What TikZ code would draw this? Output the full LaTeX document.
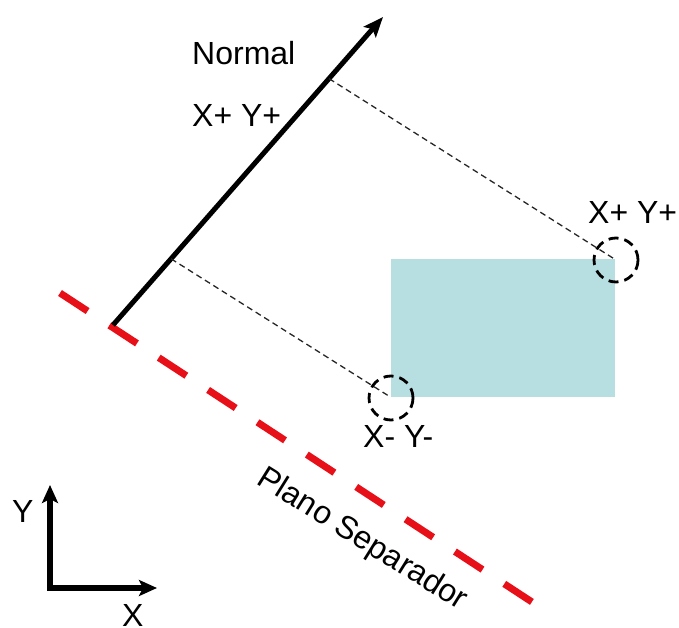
\documentclass[tikz,border=0pt]{standalone}
\usepackage{fontspec}
\setmainfont{Liberation Sans}
\usetikzlibrary{arrows.meta,calc}
\definecolor{boxfill}{RGB}{183,222,225}
\definecolor{planered}{RGB}{232,16,24}
\begin{document}
\begin{tikzpicture}[x=1pt,y=-1pt,
  lbl/.style={inner sep=0pt,anchor=base west,font=\fontsize{32}{38}\selectfont},
  planeline/.style={planered,line width=7pt,dash pattern=on 33pt off 26pt},
  normalarrow/.style={line width=5pt,-{Stealth[length=20pt,width=16pt,inset=4pt]}},
  projline/.style={line width=1.3pt,dash pattern=on 6pt off 4pt,black!85},
  marker/.style={circle,draw,line width=2.8pt,dash pattern=on 10pt off 6pt,minimum size=44pt,inner sep=0pt},
  axisline/.style={line width=6pt,{Stealth[length=18pt,width=16pt,inset=4pt]}-{Stealth[length=18pt,width=16pt,inset=4pt]}}
]
\useasboundingbox (0,0) rectangle (679,628);
% separating plane
\coordinate (P0) at (60,293);
\coordinate (P1) at (532,602);
\draw[planeline] (P0) -- (P1);
\node[inner sep=0pt,rotate=-32,font=\fontsize{32}{38}\selectfont] (plano) at (362,540) {Plano Separador};
% box
\node[fill=boxfill,inner sep=0pt,minimum width=224pt,minimum height=138pt,anchor=north west] (box) at (391,259) {};
% normal
\coordinate (N0) at (113,325);
\coordinate (N1) at (383,17);
\draw[normalarrow] (N0) -- (N1);
\coordinate (F1) at ($(N0)!0.8!(N1)$);
\coordinate (F2) at ($(N0)!0.215!(N1)$);
% markers
\node[marker] (cA) at (616,260) {};
\node[marker] (cB) at (391,398) {};
\draw[projline] (F1) -- (cA.center);
\draw[projline] (F2) -- (box.south west);
% labels
\node[lbl] (normal) at (192,65) {Normal};
\node[lbl] (xy1) at (192,127) {X+ Y+};
\node[lbl] (xy2) at (588,223) {X+ Y+};
\node[lbl] (xy3) at (363,447) {X- Y-};
% axes
\coordinate (O) at (50,588);
\coordinate (Ay) at (50,485);
\coordinate (Ax) at (157,588);
\draw[axisline] (Ay) -- (O) -- (Ax);
\node[lbl] (ylab) at (12,522) {Y};
\node[lbl] (xlab) at (122,626) {X};
\end{tikzpicture}
\end{document}
